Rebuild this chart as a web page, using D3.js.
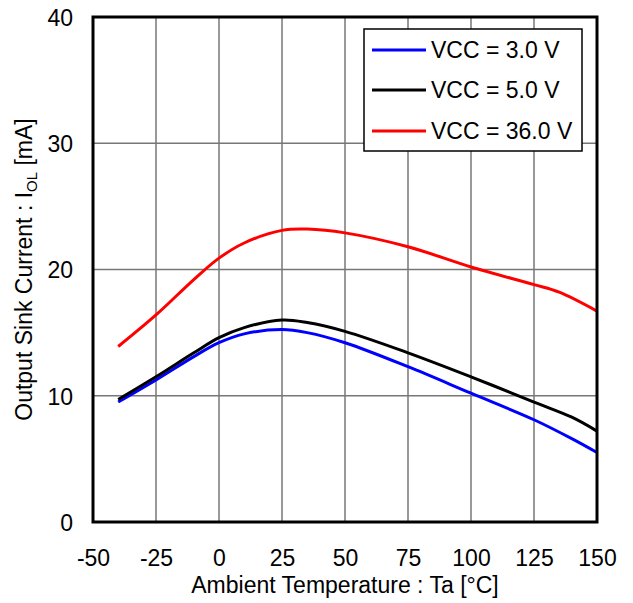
<!DOCTYPE html>
<html><head><meta charset="utf-8">
<script src="https://cdn.jsdelivr.net/npm/d3@7"></script>
<style>body{margin:0;background:#fff}svg{display:block}text{font-family:"Liberation Sans",Arial,sans-serif;fill:#000}</style>
</head><body>
<svg id="c" width="633" height="603"></svg>
<script>
const temps3 = [-40,-25,-10,0,10,25,35,50,75,100,125,140,150];
const vcc3   = [9.5,11.25,13.1,14.2,14.9,15.25,15.0,14.2,12.3,10.2,8.1,6.6,5.5];
const temps5 = [-40,-25,-10,0,10,25,35,50,75,100,125,140,150];
const vcc5   = [9.7,11.5,13.4,14.6,15.4,16.0,15.8,15.1,13.4,11.5,9.5,8.3,7.2];
const temps36 = [-40,-25,-10,0,10,25,35,50,75,100,125,135,150];
const vcc36   = [13.9,16.4,19.2,20.9,22.1,23.1,23.2,22.9,21.8,20.2,18.8,18.2,16.7];
const seriesNames = ["VCC = 3.0 V","VCC = 5.0 V","VCC = 36.0 V"];
const seriesColors = ["#0000ff","#000000","#ff0000"];
const xTicks = [-50,-25,0,25,50,75,100,125,150];
const yTicks = [0,10,20,30,40];

const svg = d3.select("#c");
const L=93,R=597,T=17,B=522;
const FS="23px";
const x = d3.scaleLinear().domain([-50,150]).range([L,R]);
const y = d3.scaleLinear().domain([0,40]).range([B,T]);

const g = svg.append("g");
g.selectAll(".vg").data(xTicks.slice(1,-1)).enter().append("line")
  .attr("x1",d=>x(d)).attr("x2",d=>x(d)).attr("y1",T).attr("y2",B)
  .attr("stroke","#777").attr("stroke-width",1.5);
g.selectAll(".hg").data(yTicks.slice(1,-1)).enter().append("line")
  .attr("x1",L).attr("x2",R).attr("y1",d=>y(d)).attr("y2",d=>y(d))
  .attr("stroke","#777").attr("stroke-width",1.5);

const xa = svg.append("g").attr("transform",`translate(0,${B})`)
  .call(d3.axisBottom(x).tickValues(xTicks).tickSize(0).tickPadding(28).tickFormat(d=>String(d)));
xa.select(".domain").remove();
xa.selectAll("text").style("font-size",FS).attr("font-family",null);
const ya = svg.append("g").attr("transform",`translate(${L},0)`)
  .call(d3.axisLeft(y).tickValues(yTicks).tickSize(0).tickPadding(20).tickFormat(d=>String(d)));
ya.select(".domain").remove();
ya.selectAll("text").style("font-size",FS).attr("font-family",null).attr("dy","0.36em");

const data = [[temps3,vcc3],[temps5,vcc5],[temps36,vcc36]];
const line = d3.line().x(d=>x(d[0])).y(d=>y(d[1])).curve(d3.curveCatmullRom.alpha(0.5));
data.forEach((s,i)=>{
  const pts = s[0].map((t,j)=>[t,s[1][j]]);
  svg.append("path").attr("d",line(pts)).attr("fill","none")
    .attr("stroke",seriesColors[i]).attr("stroke-width",3);
});

svg.append("rect").attr("x",L).attr("y",T).attr("width",R-L).attr("height",B-T)
  .attr("fill","none").attr("stroke","#000").attr("stroke-width",3);

const lg = svg.append("g");
lg.append("rect").attr("x",364).attr("y",29).attr("width",218).attr("height",122)
  .attr("fill","#fff").attr("stroke","#000").attr("stroke-width",1.5);
const ly = [50,90,131];
seriesNames.forEach((n,i)=>{
  lg.append("line").attr("x1",372).attr("x2",426).attr("y1",ly[i]).attr("y2",ly[i])
    .attr("stroke",seriesColors[i]).attr("stroke-width",3);
  lg.append("text").attr("x",431).attr("y",ly[i]+8).style("font-size",FS).text(n);
});

svg.append("text").attr("x",(L+R)/2).attr("y",593).attr("text-anchor","middle")
  .style("font-size",FS).text("Ambient Temperature : Ta [°C]");
const yt = svg.append("text").attr("transform",`translate(32,${(T+B)/2}) rotate(-90)`)
  .attr("text-anchor","middle").style("font-size",FS);
yt.append("tspan").text("Output Sink Current : I");
yt.append("tspan").attr("dy",5).style("font-size","15px").text("OL");
yt.append("tspan").attr("dy",-5).text(" [mA]");
</script>
</body></html>
